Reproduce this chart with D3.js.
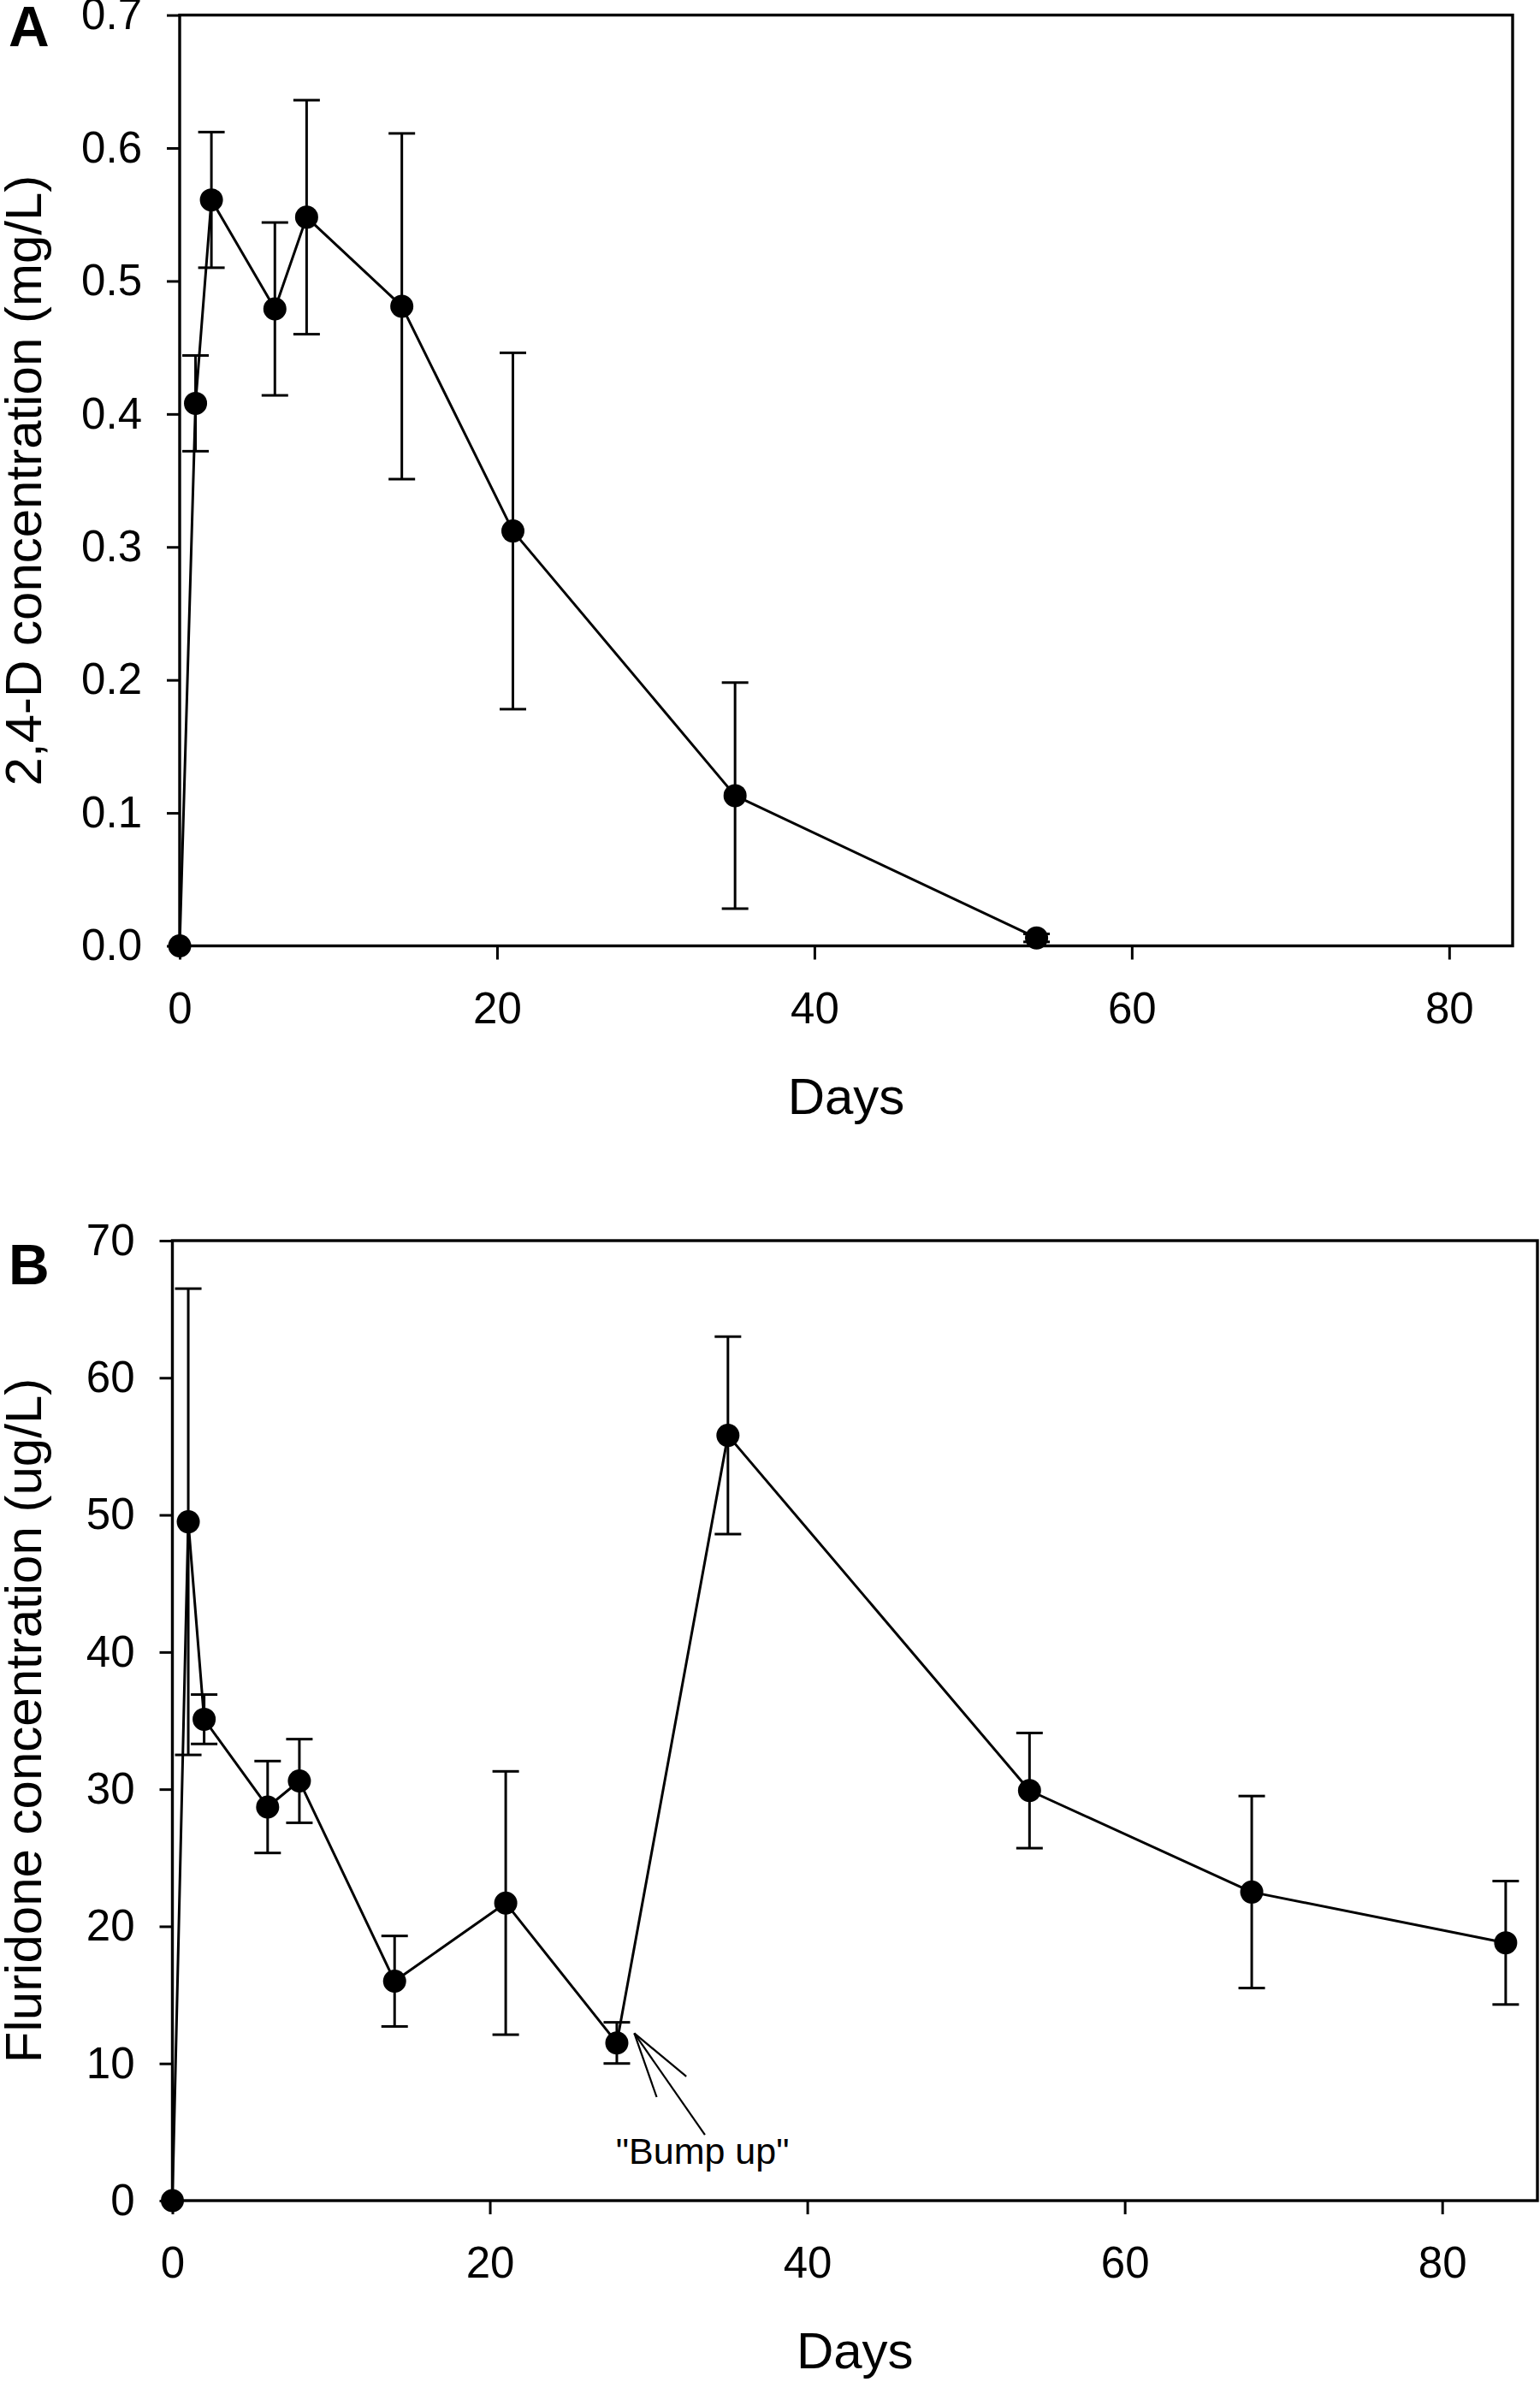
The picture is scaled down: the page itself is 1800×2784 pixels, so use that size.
<!DOCTYPE html>
<html>
<head>
<meta charset="utf-8">
<script src="https://cdn.jsdelivr.net/npm/d3@7"></script>
<style>
  html, body { margin: 0; padding: 0; background: #fff; }
  svg { display: block; }
  text { font-family: "Liberation Sans", Arial, sans-serif; fill: #000; }
</style>
</head>
<body>
<svg id="chart" width="1800" height="2784"></svg>
<script>
// Panel A: 2,4-D
const daysA = [0, 1, 2, 6, 8, 14, 21, 35, 54];
const meanA = [0.0, 0.408, 0.561, 0.479, 0.548, 0.481, 0.312, 0.113, 0.006];
const errA = [0, 0.036, 0.051, 0.065, 0.088, 0.13, 0.134, 0.085, 0.003];
const yTicksA = [0, 0.1, 0.2, 0.3, 0.4, 0.5, 0.6, 0.7];

// Panel B: fluridone
const daysB = [0, 1, 2, 6, 8, 14, 21, 28, 35, 54, 68, 84];
const meanB = [0, 49.5, 35.1, 28.7, 30.6, 16.0, 21.7, 11.5, 55.8, 29.9, 22.5, 18.8];
const errB = [0, 17.0, 1.8, 3.35, 3.05, 3.3, 9.6, 1.5, 7.2, 4.2, 7.0, 4.5];
const yTicksB = [0, 10, 20, 30, 40, 50, 60, 70];

const xTicks = [0, 20, 40, 60, 80];

// "Bump up" annotation, in data units of panel B
const bumpTip = [29.1, 12.2];
const bumpTail = [33.55, 4.8];
const bumpLabel = { day: 33.4, value: 2.66, text: "\"Bump up\"" };

const panels = [
  {
    letter: "A",
    days: daysA, mean: meanA, err: errA,
    xDomain: [0, 84], yDomain: [0, 0.7], yTicks: yTicksA,
    yFormat: d3.format(".1f"),
    yTitle: "2,4-D concentration (mg/L)",
    box: { left: 210, right: 1768, top: 17.6, bottom: 1105.5 },
    letterY: 54.3,
  },
  {
    letter: "B",
    days: daysB, mean: meanB, err: errB,
    xDomain: [0, 86], yDomain: [0, 70], yTicks: yTicksB,
    yFormat: d3.format("d"),
    yTitle: "Fluridone concentration (ug/L)",
    box: { left: 201.5, right: 1797, top: 1450, bottom: 2572 },
    letterY: 1501.4,
    annotate: true,
  },
];

const style = {
  tickFont: 51,
  titleFont: 60,
  letterFont: 66,
  noteFont: 43,
  frameWidth: 3.4,
  lineWidth: 3,
  radius: 13.5,
  capHalf: 15.5,
};

const svg = d3.select("#chart");

function drawPanel(p) {
  const { left, right, top, bottom } = p.box;
  const x = d3.scaleLinear().domain(p.xDomain).range([left, right]);
  const y = d3.scaleLinear().domain(p.yDomain).range([bottom, top]);
  const g = svg.append("g").attr("class", `panel-${p.letter}`);

  const rows = p.days.map((d, i) => ({ day: d, mean: p.mean[i], err: p.err[i] }));

  // axes
  const gx = g.append("g")
    .attr("transform", `translate(0,${bottom})`)
    .call(d3.axisBottom(x).tickValues(xTicks).tickSize(16).tickSizeOuter(0).tickPadding(38));
  const gy = g.append("g")
    .attr("transform", `translate(${left},0)`)
    .call(d3.axisLeft(y).tickValues(p.yTicks).tickFormat(p.yFormat).tickSize(15).tickSizeOuter(0).tickPadding(29));

  [gx, gy].forEach((axis) => {
    axis.select(".domain").remove();
    axis.selectAll(".tick line").attr("stroke", "#000").attr("stroke-width", 3);
    axis.selectAll(".tick text")
      .style("font-size", `${style.tickFont}px`)
      .style("font-family", "\"Liberation Sans\", Arial, sans-serif")
      .attr("fill", "#000");
  });

  g.append("rect")
    .attr("x", left).attr("y", top)
    .attr("width", right - left).attr("height", bottom - top)
    .attr("fill", "none").attr("stroke", "#000").attr("stroke-width", style.frameWidth);

  // axis titles
  g.append("text")
    .attr("x", (left + right) / 2)
    .attr("y", bottom + 196)
    .attr("text-anchor", "middle")
    .style("font-size", `${style.titleFont}px`)
    .text("Days");

  g.append("text")
    .attr("transform", `translate(48,${(top + bottom) / 2}) rotate(-90)`)
    .attr("text-anchor", "middle")
    .style("font-size", `${style.titleFont}px`)
    .text(p.yTitle);

  g.append("text")
    .attr("x", 10)
    .attr("y", p.letterY)
    .style("font-size", `${style.letterFont}px`)
    .style("font-weight", "bold")
    .text(p.letter);

  // error bars
  const bars = g.append("g").attr("stroke", "#000").attr("stroke-width", style.lineWidth);
  const withErr = rows.filter((r) => r.err > 0);
  bars.selectAll("line.stem").data(withErr).join("line")
    .attr("class", "stem")
    .attr("x1", (r) => x(r.day)).attr("x2", (r) => x(r.day))
    .attr("y1", (r) => y(r.mean - r.err)).attr("y2", (r) => y(r.mean + r.err));
  bars.selectAll("line.cap").data(withErr.flatMap((r) => [
      { day: r.day, v: r.mean - r.err },
      { day: r.day, v: r.mean + r.err },
    ])).join("line")
    .attr("class", "cap")
    .attr("x1", (c) => x(c.day) - style.capHalf).attr("x2", (c) => x(c.day) + style.capHalf)
    .attr("y1", (c) => y(c.v)).attr("y2", (c) => y(c.v));

  // line + markers
  const line = d3.line().x((r) => x(r.day)).y((r) => y(r.mean));
  g.append("path")
    .attr("d", line(rows))
    .attr("fill", "none")
    .attr("stroke", "#000")
    .attr("stroke-width", style.lineWidth)
    .attr("stroke-linejoin", "round");

  g.selectAll("circle.pt").data(rows).join("circle")
    .attr("class", "pt")
    .attr("cx", (r) => x(r.day))
    .attr("cy", (r) => y(r.mean))
    .attr("r", style.radius)
    .attr("fill", "#000");

  if (p.annotate) {
    const tip = [x(bumpTip[0]), y(bumpTip[1])];
    const tail = [x(bumpTail[0]), y(bumpTail[1])];
    const angle = Math.atan2(tail[1] - tip[1], tail[0] - tip[0]);
    const headLen = 79;
    const spread = 15.5 * Math.PI / 180;
    const segs = [
      [tip, tail],
      [tip, [tip[0] + headLen * Math.cos(angle - spread), tip[1] + headLen * Math.sin(angle - spread)]],
      [tip, [tip[0] + headLen * Math.cos(angle + spread), tip[1] + headLen * Math.sin(angle + spread)]],
    ];
    g.append("g").selectAll("line").data(segs).join("line")
      .attr("x1", (s) => s[0][0]).attr("y1", (s) => s[0][1])
      .attr("x2", (s) => s[1][0]).attr("y2", (s) => s[1][1])
      .attr("stroke", "#000").attr("stroke-width", 2.2);

    g.append("text")
      .attr("x", x(bumpLabel.day))
      .attr("y", y(bumpLabel.value))
      .attr("text-anchor", "middle")
      .style("font-size", `${style.noteFont}px`)
      .text(bumpLabel.text);
  }
}

panels.forEach(drawPanel);
</script>
</body>
</html>
